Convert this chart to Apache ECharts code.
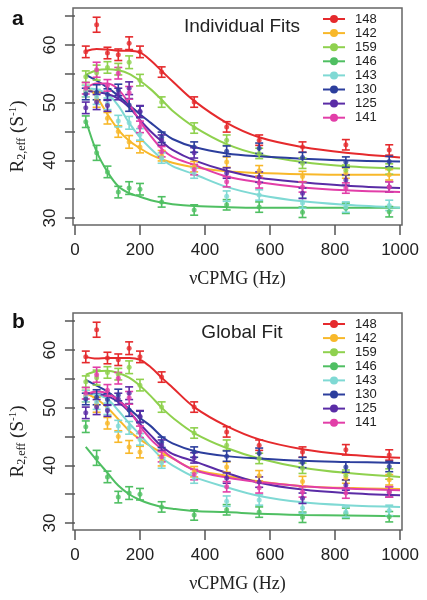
<!DOCTYPE html>
<html><head><meta charset="utf-8">
<script src="https://cdn.jsdelivr.net/npm/echarts@6/dist/echarts.min.js"></script>
<style>html,body{margin:0;padding:0;background:#fff}#c{width:427px;height:600px}</style>
</head><body><div id="c"></div>
<script>
// ---- data ----
const freqs = [33.3, 66.7, 100, 133.3, 166.7, 200, 266.7, 366.7, 466.7, 566.7, 700, 833.3, 966.7];
const fitFreqs = [33.3, 66.7, 100, 133.3, 166.7, 200, 233.3, 266.7, 300, 366.7, 466.7, 566.7, 700, 833.3, 1000];
const residues = ['148', '142', '159', '146', '143', '130', '125', '141'];
const xTicks = [0, 200, 400, 600, 800, 1000];
const yTicks = [30, 35, 40, 45, 50, 55, 60, 65];
const yLabels = [30, 40, 50, 60];
const errHalf = [1.0, 1.3, 1.0, 1.0, 1.1, 1.0, 0.9, 0.9, 0.9, 0.9, 0.9, 0.9, 0.9];

// observed R2,eff
const obs148 = [58.8, 63.5, 58.6, 58.3, 60.3, 58.8, 55.3, 50.1, 45.8, 43.5, 42.3, 42.7, 41.8];
const obs142 = [52.0, 50.5, 47.3, 45.0, 43.2, 42.3, 40.8, 38.9, 39.7, 38.2, 37.2, 37.8, 37.5];
const obs159 = [54.5, 55.2, 56.1, 55.8, 57.0, 53.9, 50.1, 45.6, 43.5, 41.2, 39.5, 38.3, 38.5];
const obs146 = [46.7, 41.3, 38.0, 34.5, 35.2, 35.0, 32.8, 31.4, 32.3, 31.9, 31.0, 31.7, 31.1];
const obs143 = [52.0, 51.0, 49.8, 46.8, 46.5, 44.5, 40.4, 37.8, 33.8, 34.0, 32.6, 31.9, 32.2];
const obs130 = [51.5, 51.8, 51.4, 52.2, 49.6, 48.4, 44.0, 42.3, 41.6, 42.1, 40.5, 39.7, 39.8];
const obs125 = [49.1, 50.1, 49.5, 51.5, 52.5, 48.5, 43.5, 41.3, 37.8, 37.1, 34.3, 36.6, 35.4];
const obs141 = [52.5, 55.7, 53.0, 55.1, 51.7, 45.8, 41.5, 38.4, 36.3, 36.1, 35.4, 35.2, 35.4];

// individual fits (panel a)
const fitA148 = [58.9, 59.3, 59.2, 59.0, 59.0, 58.7, 57.3, 55.5, 53.7, 50.3, 46.5, 44.0, 42.3, 41.3, 40.5];
const fitA142 = [53.0, 51.0, 48.0, 45.3, 43.4, 42.1, 41.0, 40.2, 39.6, 38.8, 38.1, 37.8, 37.6, 37.5, 37.5];
const fitA159 = [54.8, 55.6, 55.8, 55.6, 55.0, 53.8, 52.3, 50.5, 48.6, 45.8, 42.8, 41.0, 39.7, 39.0, 38.6];
const fitA146 = [47.0, 41.5, 38.0, 35.5, 34.3, 33.7, 33.1, 32.7, 32.4, 32.1, 31.9, 31.8, 31.8, 31.8, 31.8];
const fitA143 = [52.5, 52.3, 51.5, 49.5, 46.5, 44.0, 42.0, 40.3, 39.0, 37.6, 35.4, 34.0, 32.9, 32.3, 31.8];
const fitA130 = [54.8, 53.8, 52.6, 51.2, 49.6, 48.0, 46.5, 45.0, 43.7, 42.3, 41.2, 40.7, 40.3, 40.0, 39.8];
const fitA125 = [52.0, 51.8, 51.5, 50.7, 49.2, 47.0, 45.0, 43.3, 41.8, 40.0, 38.2, 37.0, 36.2, 35.6, 35.2];
const fitA141 = [52.5, 53.3, 53.3, 52.3, 49.8, 46.8, 44.2, 42.0, 40.6, 39.2, 37.2, 36.2, 35.3, 34.8, 34.5];

// global fit (panel b)
const fitB148 = [58.8, 58.5, 58.6, 58.6, 58.6, 58.3, 57.0, 55.2, 53.5, 50.1, 46.8, 44.5, 42.8, 41.9, 41.3];
const fitB142 = [52.5, 51.5, 50.0, 48.0, 46.0, 44.5, 43.3, 42.2, 41.2, 39.3, 38.2, 37.2, 36.4, 36.1, 35.9];
const fitB159 = [55.7, 56.3, 56.4, 56.0, 55.2, 53.8, 52.0, 50.0, 48.3, 45.6, 43.0, 41.2, 39.6, 38.7, 38.0];
const fitB146 = [43.2, 40.9, 38.7, 36.5, 35.0, 34.0, 33.3, 32.8, 32.5, 32.1, 31.9, 31.6, 31.4, 31.3, 31.2];
const fitB143 = [52.5, 52.2, 51.5, 49.5, 47.3, 45.3, 43.2, 41.3, 40.0, 38.0, 36.2, 34.7, 33.6, 33.1, 32.8];
const fitB130 = [54.8, 53.8, 52.8, 51.3, 49.8, 48.2, 46.8, 45.0, 43.8, 42.5, 41.6, 41.2, 40.8, 40.6, 40.4];
const fitB125 = [52.5, 52.4, 52.0, 51.0, 49.3, 47.2, 45.2, 43.3, 42.0, 40.7, 38.7, 37.0, 35.8, 35.2, 34.8];
const fitB141 = [52.3, 52.8, 52.5, 51.3, 49.5, 46.8, 44.5, 42.8, 41.3, 39.2, 37.9, 37.1, 36.4, 36.0, 35.7];

const colors = ['#e52a2d', '#f8b82a', '#8fd14e', '#4fbf62', '#7fd9d4', '#2c3e9d', '#5a2ca6', '#e23ea8'];
const observed = [obs148, obs142, obs159, obs146, obs143, obs130, obs125, obs141];
const fitsA = [fitA148, fitA142, fitA159, fitA146, fitA143, fitA130, fitA125, fitA141];
const fitsB = [fitB148, fitB142, fitB159, fitB146, fitB143, fitB130, fitB125, fitB141];

// ---- chart ----
const chart = echarts.init(document.getElementById('c'), null, {renderer: 'canvas'});
const sans = 'Liberation Sans, Arial, sans-serif';
const serif = 'Liberation Serif, Times New Roman, serif';
const panelTops = [8, 313];

function xAxisCfg(i) {
  return {
    gridIndex: i, type: 'value', min: -6, max: 1006,
    name: 'νCPMG (Hz)', nameLocation: 'middle', nameGap: 45,
    nameTextStyle: {fontFamily: serif, fontSize: 18, color: '#222'},
    axisLine: {show: false},
    axisTick: {show: true, length: 10, customValues: xTicks, lineStyle: {color: '#555', width: 1.5}},
    axisLabel: {customValues: xTicks, formatter: v => String(v), fontFamily: sans, fontSize: 17, color: '#222', margin: 17},
    splitLine: {show: false}
  };
}
function yAxisCfg(i) {
  return {
    gridIndex: i, type: 'value', min: 28.8, max: 66.4,
    name: '{r|R}{s|2,eff}{r| (S}{p|-1}{r|)}', nameLocation: 'middle', nameGap: 45, nameRotate: 90,
    nameTextStyle: {
      padding: [0, 40, 0, 0],
      rich: {
        r: {fontFamily: serif, fontSize: 19, color: '#222'},
        s: {fontFamily: serif, fontSize: 12, color: '#222', verticalAlign: 'bottom', padding: [8, 0, 0, 0]},
        p: {fontFamily: serif, fontSize: 11, color: '#222', verticalAlign: 'top', padding: [0, 0, 6, 0]}
      }
    },
    axisLine: {show: false},
    axisTick: {show: true, length: 10, customValues: yTicks, lineStyle: {color: '#555', width: 1.5}},
    axisLabel: {customValues: yLabels, formatter: v => String(v), rotate: 90, fontFamily: sans, fontSize: 17, color: '#222', margin: 14},
    splitLine: {show: false}
  };
}

const series = [];
[fitsA, fitsB].forEach((fits, p) => {
  residues.forEach((name, i) => {
    series.push({
      type: 'line', name: name, xAxisIndex: p, yAxisIndex: p,
      data: fitFreqs.map((f, k) => [f, fits[i][k]]),
      symbol: 'circle', symbolSize: 7, showSymbol: false, smooth: 0.35,
      lineStyle: {width: 2, color: colors[i]}, itemStyle: {color: colors[i]},
      z: 2, silent: true
    });
  });
});
[0, 1].forEach(p => {
  residues.forEach((name, i) => {
    const pts = freqs.map((f, k) => [f, observed[i][k], errHalf[k]]);
    series.push({
      type: 'custom', name: name, xAxisIndex: p, yAxisIndex: p, z: 3,
      data: pts,
      renderItem: function (params, api) {
        const x = api.value(0), y = api.value(1), e = api.value(2);
        const lo = api.coord([x, y - e]);
        const hi = api.coord([x, y + e]);
        const w = 4;
        const st = {stroke: colors[i], lineWidth: 1.6};
        return {type: 'group', children: [
          {type: 'line', shape: {x1: lo[0], y1: lo[1], x2: hi[0], y2: hi[1]}, style: st},
          {type: 'line', shape: {x1: lo[0] - w, y1: lo[1], x2: lo[0] + w, y2: lo[1]}, style: st},
          {type: 'line', shape: {x1: hi[0] - w, y1: hi[1], x2: hi[0] + w, y2: hi[1]}, style: st}
        ]};
      },
      encode: {x: 0, y: 1}
    });
    series.push({
      type: 'scatter', name: name, xAxisIndex: p, yAxisIndex: p, z: 4,
      data: freqs.map((f, k) => [f, observed[i][k]]),
      symbol: 'circle', symbolSize: 5, itemStyle: {color: colors[i]}
    });
  });
});

function legendCfg(top) {
  return {
    orient: 'vertical', left: 322, top: top, itemWidth: 22, itemHeight: 10, itemGap: 0.1,
    data: residues, selectedMode: false, padding: 0,
    textStyle: {fontFamily: sans, fontSize: 13, lineHeight: 14, color: '#222', padding: [0, 0, 0, 5]}
  };
}

chart.setOption({
  animation: false,
  backgroundColor: '#fff',
  grid: panelTops.map(t => ({left: 73, top: t, width: 329, height: 217, show: true, borderColor: '#666', borderWidth: 1.5, backgroundColor: 'transparent', containLabel: false, outerBoundsMode: 'none'})),
  xAxis: [xAxisCfg(0), xAxisCfg(1)],
  yAxis: [yAxisCfg(0), yAxisCfg(1)],
  legend: [legendCfg(12), legendCfg(317)],
  title: [
    {text: 'a', left: 7, top: 4, textStyle: {fontFamily: sans, fontSize: 21, fontWeight: 'bold', color: '#111'}},
    {text: 'b', left: 7, top: 307, textStyle: {fontFamily: sans, fontSize: 21, fontWeight: 'bold', color: '#111'}},
    {text: 'Individual Fits', left: 237, textAlign: 'center', top: 12, textStyle: {fontFamily: sans, fontSize: 19, fontWeight: 'normal', color: '#222'}},
    {text: 'Global Fit', left: 237, textAlign: 'center', top: 318, textStyle: {fontFamily: sans, fontSize: 19, fontWeight: 'normal', color: '#222'}}
  ],
  series: series
});
</script>
</body></html>
